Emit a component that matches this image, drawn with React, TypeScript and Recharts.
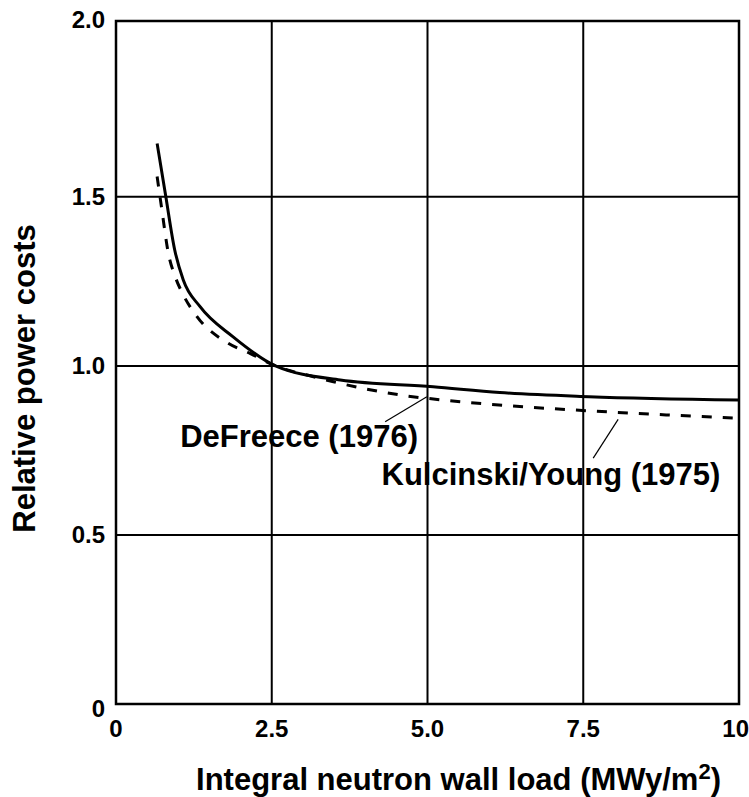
import React from "react";
import {
  LineChart,
  Line,
  XAxis,
  YAxis,
  ReferenceLine,
  ReferenceArea,
  ReferenceDot,
} from "recharts";

// ─── Data ────────────────────────────────────────────────────────────────────

const xTicks = [0, 2.5, 5, 7.5, 10];
const xTickLabels = ["0", "2.5", "5.0", "7.5", "10"];
const yTicks = [0, 0.5, 1, 1.5, 2];
const yTickLabels = ["0", "0.5", "1.0", "1.5", "2.0"];
const xGrid = [2.5, 5, 7.5];
const yGrid = [0.5, 1, 1.5];

// DeFreece (1976) - solid
const defreeceX = [0.66, 0.8, 0.94, 1.08, 1.35, 1.88, 2.56, 3.6, 5.09, 6.16, 7.59, 10];
const defreeceY = [1.658, 1.5, 1.345, 1.254, 1.175, 1.086, 1.0, 0.958, 0.938, 0.921, 0.909, 0.899];

// Kulcinski/Young (1975) - dashed
const kulcinskiX = [0.66, 0.73, 0.84, 0.95, 1.08, 1.3, 1.8, 2.15, 2.56, 3.17, 3.49, 4.56, 5.36, 6.7, 7.59, 8.84, 10];
const kulcinskiY = [1.56, 1.47, 1.333, 1.264, 1.21, 1.146, 1.067, 1.037, 1.0, 0.968, 0.953, 0.914, 0.897, 0.877, 0.867, 0.855, 0.845];

const defreeceData = defreeceX.map((x, i) => ({ x, y: defreeceY[i] }));
const kulcinskiData = kulcinskiX.map((x, i) => ({ x, y: kulcinskiY[i] }));

// ─── Style ───────────────────────────────────────────────────────────────────

const FONT = "'Liberation Sans', Arial, Helvetica, sans-serif";
const Y_TOP = 2.02;

function XTick({ x, y, payload }: any) {
  const i = xTicks.indexOf(payload.value);
  const last = i === xTicks.length - 1;
  return (
    <text
      x={last ? x + 10 : x}
      y={y + 33}
      textAnchor={last ? "end" : "middle"}
      fontFamily={FONT}
      fontWeight={700}
      fontSize={24}
      fill="#000"
    >
      {xTickLabels[i]}
    </text>
  );
}

function YTick({ x, y, payload }: any) {
  const i = yTicks.indexOf(payload.value);
  const dy = payload.value === 0 ? 13 : payload.value === 2 ? 0 : 8.5;
  return (
    <text x={x - 11} y={y + dy} textAnchor="end" fontFamily={FONT} fontWeight={700} fontSize={24} fill="#000">
      {yTickLabels[i]}
    </text>
  );
}

function note(text: string, anchor: "start" | "end") {
  return (props: any) => {
    const vb = props.viewBox || {};
    const cx = vb.x + (vb.width || 0) / 2;
    const cy = vb.y + (vb.height || 0) / 2;
    return (
      <text x={cx} y={cy} textAnchor={anchor} fontFamily={FONT} fontWeight={700} fontSize={31} fill="#000">
        {text}
      </text>
    );
  };
}

export default function App() {
  return (
    <div style={{ position: "absolute", left: 0, top: 0, background: "#fff" }}>
      <LineChart
        width={749}
        height={797}
        margin={{ top: 21, right: 10, bottom: 0, left: 0 }}
      >
        <XAxis
          dataKey="x"
          type="number"
          domain={[0, 10]}
          ticks={xTicks}
          allowDataOverflow
          axisLine={false}
          tickLine={false}
          tickSize={0}
          tickMargin={0}
          height={93}
          tick={<XTick />}
          label={{
            content: (p: any) => {
              const vb = p.viewBox;
              return (
                <text
                  x={vb.x + vb.width / 2 + 31}
                  y={vb.y + 86}
                  textAnchor="middle"
                  fontFamily={FONT}
                  fontWeight={700}
                  fontSize={31}
                  fill="#000"
                >
                  <tspan>Integral neutron wall load (MWy/m</tspan>
                  <tspan dy={-11} fontSize={22}>2</tspan>
                  <tspan dy={11}>)</tspan>
                </text>
              );
            },
          }}
        />
        <YAxis
          type="number"
          domain={[0, Y_TOP]}
          ticks={yTicks}
          allowDataOverflow
          axisLine={false}
          tickLine={false}
          tickSize={0}
          tickMargin={0}
          width={116}
          tick={<YTick />}
          label={{
            content: (p: any) => {
              const vb = p.viewBox;
              const cx = vb.x + 35;
              const cy = vb.y + vb.height / 2 + 16;
              return (
                <text
                  x={cx}
                  y={cy}
                  transform={`rotate(-90 ${cx} ${cy})`}
                  textAnchor="middle"
                  fontFamily={FONT}
                  fontWeight={700}
                  fontSize={31}
                  fill="#000"
                >
                  Relative power costs
                </text>
              );
            },
          }}
        />

        {/* grid */}
        {xGrid.map((v) => (
          <ReferenceLine key={`gx${v}`} x={v} stroke="#000" strokeWidth={2} />
        ))}
        {yGrid.map((v) => (
          <ReferenceLine key={`gy${v}`} y={v} stroke="#000" strokeWidth={2} />
        ))}
        {/* frame */}
        <ReferenceArea x1={0} x2={10} y1={0} y2={Y_TOP} fill="none" stroke="#000" strokeWidth={2.5} fillOpacity={0} />

        <Line
          data={kulcinskiData}
          dataKey="y"
          type="monotone"
          stroke="#000"
          strokeWidth={3}
          strokeDasharray="10 11"
          dot={false}
          activeDot={false}
          isAnimationActive={false}
        />
        <Line
          data={defreeceData}
          dataKey="y"
          type="monotone"
          stroke="#000"
          strokeWidth={3}
          dot={false}
          activeDot={false}
          isAnimationActive={false}
        />

        {/* leader lines */}
        <ReferenceLine
          segment={[{ x: 4.32, y: 0.835 }, { x: 4.99, y: 0.909 }]}
          stroke="#000"
          strokeWidth={1.2}
        />
        <ReferenceLine
          segment={[{ x: 7.66, y: 0.727 }, { x: 8.06, y: 0.842 }]}
          stroke="#000"
          strokeWidth={1.2}
        />

        {/* annotations */}
        <ReferenceDot x={1.03} y={0.76} r={0} fill="none" stroke="none" label={note("DeFreece (1976)", "start")} />
        <ReferenceDot x={9.7} y={0.648} r={0} fill="none" stroke="none" label={note("Kulcinski/Young (1975)", "end")} />
      </LineChart>
    </div>
  );
}
